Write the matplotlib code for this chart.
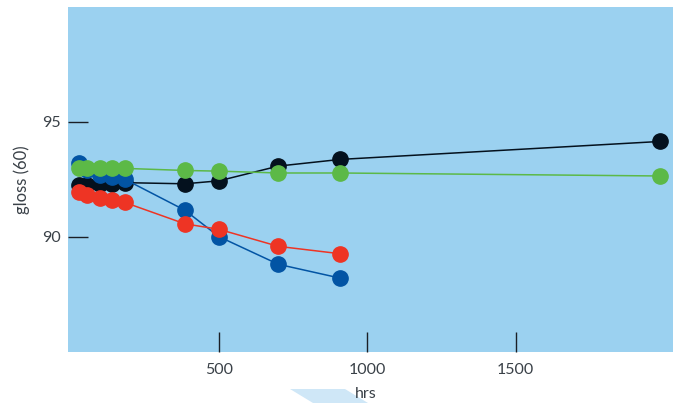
import matplotlib
matplotlib.use('Agg')
import matplotlib.pyplot as plt
from matplotlib.patches import Polygon

plt.rcParams['font.family'] = ['Lato', 'DejaVu Sans']

# hours of exposure
hrs_short = [28, 56, 98, 140, 182, 385, 500, 700, 908]
hrs_long = [28, 56, 98, 140, 182, 385, 500, 700, 908, 1985]

# gloss (60) readings per sample
blue = [93.2, 92.9, 92.7, 92.6, 92.5, 91.15, 90.0, 88.8, 88.2]
black = [92.25, 92.25, 92.3, 92.3, 92.35, 92.3, 92.43, 93.07, 93.36, 94.14]
red = [91.94, 91.8, 91.68, 91.58, 91.49, 90.56, 90.32, 89.58, 89.26]
green = [92.98, 92.97, 92.97, 92.97, 92.97, 92.88, 92.85, 92.77, 92.77, 92.64]

x_ticks = [500, 1000, 1500]
y_ticks = [90, 95]

text_col = '#3a4148'

fig = plt.figure(figsize=(6.81, 4.03), dpi=100)
ax = fig.add_axes([68 / 681, 1 - 351.7 / 403, 604.7 / 681, 345 / 403])
ax.set_facecolor('#9bd1f0')

series = [(hrs_long, black, '#04111e', 2),
          (hrs_short, blue, '#0254a4', 3),
          (hrs_short, red, '#ee3424', 4),
          (hrs_long, green, '#5cb947', 5)]
for xs, ys, c, z in series:
    ax.plot(xs, ys, color=c, lw=1.1, marker='o', ms=11, zorder=z)

ax.set_xlim(-9, 2029)
ax.set_ylim(85, 100)
ax.set_xticks(x_ticks)
ax.set_yticks(y_ticks)
for s in ax.spines.values():
    s.set_visible(False)
ax.tick_params(axis='both', direction='in', length=14.4, width=1,
               color='#1a1f26', labelcolor=text_col, labelsize=11.5)
ax.tick_params(axis='x', pad=8)
ax.tick_params(axis='y', pad=5)

ax.set_ylabel('gloss (60)', color=text_col, fontsize=12, labelpad=9)
fig.text(366 / 681, 1 - 394 / 403, 'hrs', color=text_col, fontsize=11.5,
         ha='center', va='center', zorder=3)

# light decorative shape under the axis title
shape = Polygon([(290 / 681, 1 - 389 / 403), (345 / 681, 1 - 389 / 403),
                 (368 / 681, 0.0), (313 / 681, 0.0)],
                closed=True, transform=fig.transFigure,
                facecolor='#cfe7f7', edgecolor='none', zorder=1)
fig.patches.append(shape)

fig.savefig('out.png', dpi=100)
